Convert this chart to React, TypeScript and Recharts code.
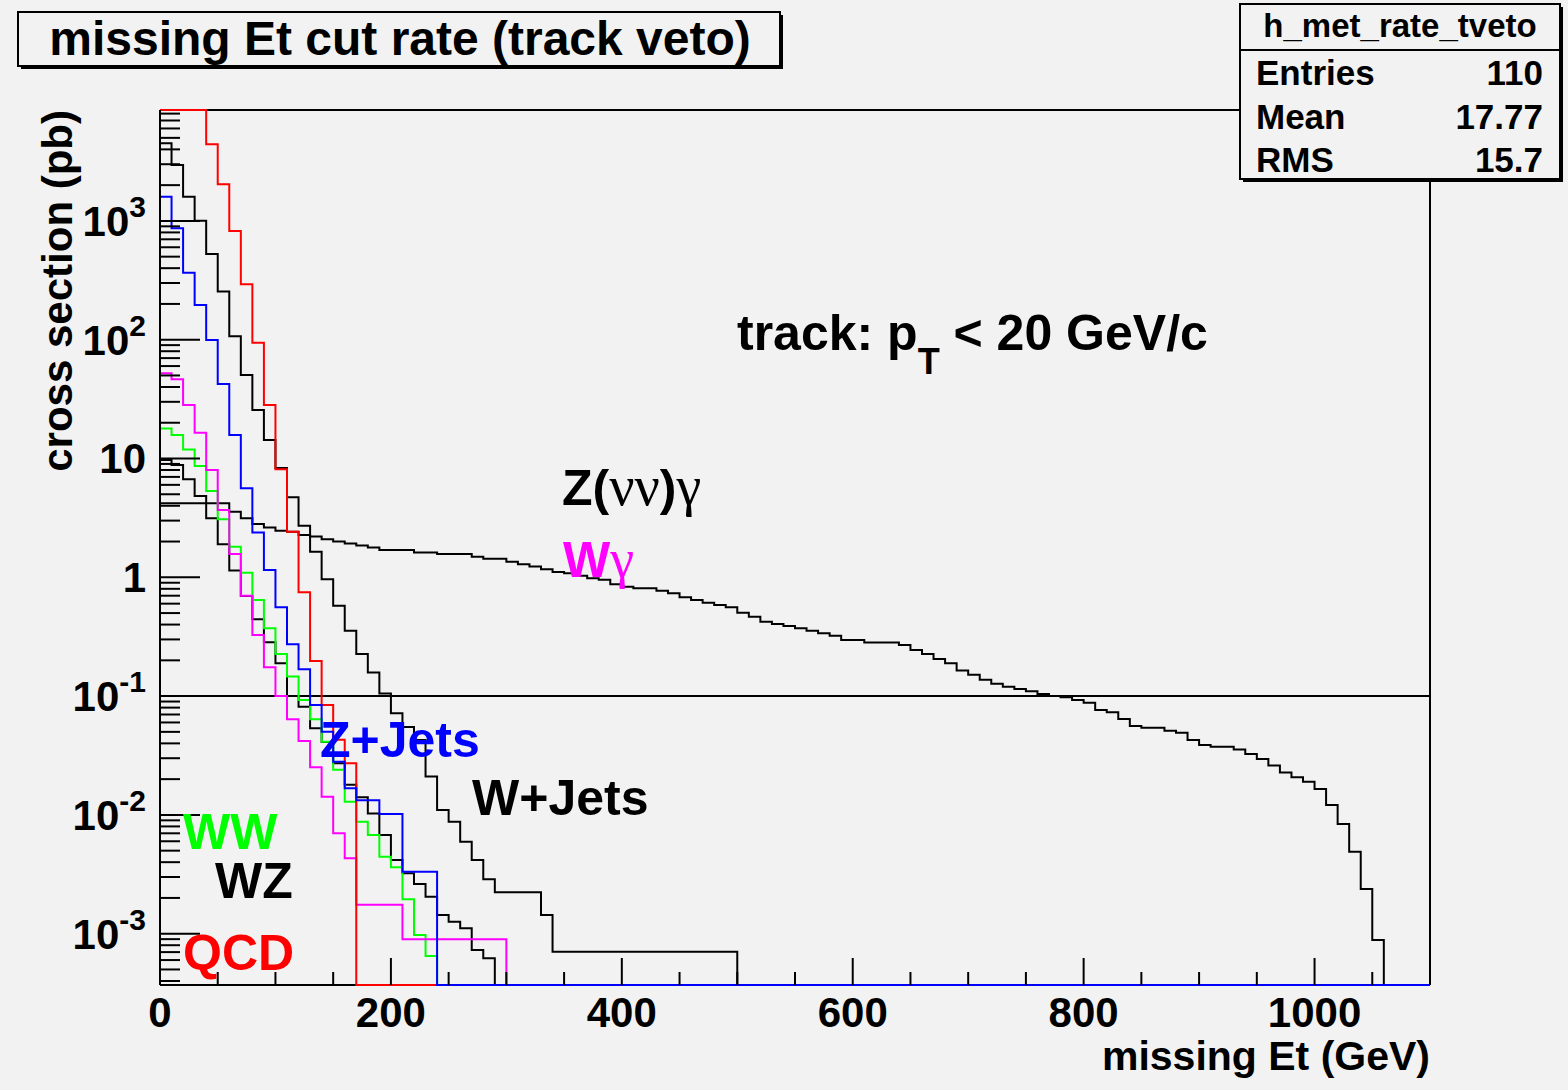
import React from 'react';
import { LineChart, Line, XAxis, YAxis, ReferenceLine } from 'recharts';

// Histogram binning (GeV)
const BIN_WIDTH = 10;
const BIN_COUNT = 110;
const X_MAX = 1100;

// Visible range of the logarithmic cross-section axis (pb)
const Y_MIN = 3.7e-4;
const Y_MAX = 8580;

// Axis ticks and labels
const X_MAJOR_TICKS = [0, 200, 400, 600, 800, 1000];
const X_MINOR_STEP = 50;
const Y_DECADES = [1e-3, 1e-2, 1e-1, 1, 10, 100, 1000];
const Y_DECADE_LABELS = [
  ['10', '-3'],
  ['10', '-2'],
  ['10', '-1'],
  ['1', ''],
  ['10', ''],
  ['10', '2'],
  ['10', '3'],
];
const Y_MINOR_MULTIPLIERS = [2, 3, 4, 5, 6, 7, 8, 9];

// Cross section (pb) passing the missing-Et cut, one entry per 10 GeV bin.
// Bins past the end of a list are empty.
const Z_NUNU_GAMMA = [
  4.2, 4.2, 4.2, 4.2, 4.2, 4.2, 3.57, 3.14, 2.81, 2.62,
  2.47, 2.42, 2.27, 2.2, 2.09, 2.0, 1.93, 1.85, 1.78, 1.7,
  1.7, 1.7, 1.62, 1.62, 1.57, 1.57, 1.57, 1.49, 1.43, 1.43,
  1.35, 1.29, 1.23, 1.17, 1.11, 1.08, 1.03, 0.98, 0.955, 0.873,
  0.834, 0.808, 0.808, 0.771, 0.733, 0.679, 0.644, 0.611, 0.585, 0.559,
  0.503, 0.466, 0.423, 0.404, 0.389, 0.372, 0.355, 0.338, 0.322, 0.297,
  0.297, 0.282, 0.282, 0.282, 0.269, 0.244, 0.226, 0.205, 0.189, 0.164,
  0.151, 0.137, 0.127, 0.12, 0.115, 0.11, 0.104, 0.1, 0.0977, 0.0927,
  0.088, 0.0763, 0.0731, 0.0641, 0.056, 0.0542, 0.0542, 0.0511, 0.0492, 0.0427,
  0.0387, 0.0375, 0.0375, 0.0356, 0.0326, 0.0296, 0.026, 0.0227, 0.0207, 0.019,
  0.0165, 0.0121, 0.00838, 0.0049, 0.00238, 0.000885,
];
const W_JETS = [
  4500, 2960, 1600, 1004, 526, 254, 107, 50.4, 25.6, 14.3,
  8.3, 4.71, 2.72, 1.64, 0.962, 0.577, 0.355, 0.226, 0.158, 0.105,
  0.0717, 0.055, 0.0427, 0.021, 0.011, 0.00876, 0.00595, 0.00417, 0.00287, 0.00223,
  0.00223, 0.00223, 0.00223, 0.00144, 0.000705, 0.000705, 0.000705, 0.000705, 0.000705, 0.000705,
  0.000705, 0.000705, 0.000705, 0.000705, 0.000705, 0.000705, 0.000705, 0.000705, 0.000705, 0.000705,
];
const WZ = [
  9.7, 8.8, 6.68, 4.83, 3.14, 1.9, 1.14, 0.696, 0.443, 0.284,
  0.189, 0.1, 0.0814, 0.0536, 0.041, 0.0272, 0.0179, 0.0141, 0.0103, 0.00678,
  0.00417, 0.00322, 0.00262, 0.00205, 0.00144, 0.00126, 0.00111, 0.00073, 0.00062,
];
const WW = [
  17.9, 15.8, 11.9, 8.65, 5.32, 3.08, 1.81, 1.09, 0.644, 0.372,
  0.226, 0.146, 0.0927, 0.0638, 0.0413, 0.024, 0.0129, 0.00876, 0.00678, 0.00445,
  0.00362, 0.00195, 0.000975, 0.000649,
];
const W_GAMMA = [
  52.1, 46.4, 28.2, 16.5, 8.0, 3.68, 1.57, 0.7, 0.327, 0.175,
  0.1, 0.0638, 0.0418, 0.0252, 0.0142, 0.007, 0.00431, 0.00175, 0.00175, 0.00175,
  0.00175, 0.000897, 0.000897, 0.000897, 0.000897, 0.000897, 0.000897, 0.000897, 0.000897, 0.000897,
];
const QCD = [
  90000, 45000, 22000, 10000, 4420, 2030, 822, 293, 94.4, 28.2,
  8.11, 2.42, 0.748, 0.197, 0.0841, 0.043, 0.0272,
];
const Z_JETS = [
  1600, 866, 366, 196, 99.4, 42.4, 15.8, 5.61, 2.38, 1.15,
  0.559, 0.273, 0.168, 0.0841, 0.05, 0.028, 0.0168, 0.0133, 0.0133, 0.0102,
  0.0102, 0.00333, 0.00333, 0.00333,
];

// Series in drawing order (later ones are painted on top)
const SERIES = [
  { key: 'znng', values: Z_NUNU_GAMMA, color: '#000000' },
  { key: 'wjets', values: W_JETS, color: '#000000' },
  { key: 'wz', values: WZ, color: '#000000' },
  { key: 'ww', values: WW, color: '#00ff00' },
  { key: 'wgamma', values: W_GAMMA, color: '#ff00ff' },
  { key: 'qcd', values: QCD, color: '#ff0000' },
  { key: 'zjets', values: Z_JETS, color: '#0000ff' },
];

const BG = '#f2f2f2';
const SANS = '"Liberation Sans", Arial, Helvetica, sans-serif';
const SERIF = '"Liberation Serif", "DejaVu Serif", serif';

// Like the ROOT painter: empty bins sit on the bottom frame, overflowing ones on the top frame.
const toFrame = (v: number) => (v <= Y_MIN ? Y_MIN : v >= Y_MAX ? Y_MAX : v);

const binContent = (values: number[], bin: number) => {
  const b = Math.min(bin, BIN_COUNT - 1);
  return b < values.length ? values[b] : 0;
};

// One row per bin low edge, plus the upper edge so the last bin gets its step.
const rows = Array.from({ length: BIN_COUNT + 1 }, (_, i) => {
  const row: Record<string, number> = { met: i * BIN_WIDTH };
  SERIES.forEach((s) => {
    row[s.key] = toFrame(binContent(s.values, i));
  });
  return row;
});

const X_TICKS = Array.from({ length: X_MAX / X_MINOR_STEP + 1 }, (_, i) => i * X_MINOR_STEP);
const Y_TICKS: number[] = [];
[1e-4, ...Y_DECADES].forEach((d) => {
  if (d >= Y_MIN && d <= Y_MAX) Y_TICKS.push(d);
  Y_MINOR_MULTIPLIERS.forEach((m) => {
    const v = m * d;
    if (v >= Y_MIN && v <= Y_MAX) Y_TICKS.push(v);
  });
});
Y_TICKS.sort((a, b) => a - b);

const XTick = (props: any) => {
  const { x, y, payload } = props;
  const v = payload.value;
  const major = X_MAJOR_TICKS.includes(v);
  return (
    <g>
      <line x1={x} x2={x} y1={y} y2={y - (major ? 27 : 13)} stroke="#000" strokeWidth={2} />
      {major && (
        <text x={x} y={y + 42} textAnchor="middle" fontFamily={SANS} fontWeight="bold" fontSize={42} fill="#000">
          {v}
        </text>
      )}
    </g>
  );
};

const YTick = (props: any) => {
  const { x, y, payload } = props;
  const v = payload.value;
  const idx = Y_DECADES.findIndex((d) => Math.abs(v / d - 1) < 1e-6);
  const major = idx >= 0;
  const label = major ? Y_DECADE_LABELS[idx] : null;
  return (
    <g>
      <line x1={x} x2={x + (major ? 40 : 20)} y1={y} y2={y} stroke="#000" strokeWidth={2} />
      {label && (
        <text x={x - 14} y={y + 15} textAnchor="end" fontFamily={SANS} fontWeight="bold" fontSize={42} fill="#000">
          {label[0]}
          {label[1] && (
            <tspan dy={-19} fontSize={30}>
              {label[1]}
            </tspan>
          )}
        </text>
      )}
    </g>
  );
};

const Overlay = () => (
  <svg width={1568} height={1090} style={{ position: 'absolute', left: 0, top: 0, pointerEvents: 'none' }}>
    {/* title box */}
    <rect x={21} y={15} width={762} height={54} fill="#000" />
    <rect x={18} y={12} width={762} height={54} fill={BG} stroke="#000" strokeWidth={2} />
    <text x={400} y={55} textAnchor="middle" fontFamily={SANS} fontWeight="bold" fontSize={48} fill="#000">
      missing Et cut rate (track veto)
    </text>

    {/* statistics box */}
    <rect x={1243} y={7} width={320} height={175} fill="#000" />
    <rect x={1240} y={4} width={320} height={175} fill={BG} stroke="#000" strokeWidth={2} />
    <line x1={1240} x2={1560} y1={50} y2={50} stroke="#000" strokeWidth={2} />
    <g fontFamily={SANS} fontWeight="bold" fill="#000">
      <text x={1400} y={37} textAnchor="middle" fontSize={33}>h_met_rate_tveto</text>
      <text x={1256} y={85} fontSize={35}>Entries</text>
      <text x={1543} y={85} fontSize={35} textAnchor="end">110</text>
      <text x={1256} y={129} fontSize={35}>Mean</text>
      <text x={1543} y={129} fontSize={35} textAnchor="end">17.77</text>
      <text x={1256} y={172} fontSize={35}>RMS</text>
      <text x={1543} y={172} fontSize={35} textAnchor="end">15.7</text>
    </g>

    {/* axis titles */}
    <text x={1430} y={1070} textAnchor="end" fontFamily={SANS} fontWeight="bold" fontSize={41} fill="#000">
      missing Et (GeV)
    </text>
    <text
      transform="translate(72,110) rotate(-90)"
      textAnchor="end"
      fontFamily={SANS}
      fontWeight="bold"
      fontSize={42}
      fill="#000"
    >
      cross section (pb)
    </text>

    {/* annotations */}
    <g fontFamily={SANS} fontWeight="bold" fontSize={50}>
      <text x={737} y={350} fill="#000">
        track: p
        <tspan dy={24} fontSize={36}>T</tspan>
        <tspan dy={-24}>{' < 20 GeV/c'}</tspan>
      </text>
      <text x={562} y={505} fill="#000">
        Z(
        <tspan fontFamily={SERIF} fontWeight="normal" fontSize={56}>νν</tspan>)
        <tspan fontFamily={SERIF} fontWeight="normal" fontSize={56}>γ</tspan>
      </text>
      <text x={563} y={577} fill="#ff00ff">
        W<tspan fontFamily={SERIF} fontWeight="normal" fontSize={54}>γ</tspan>
      </text>
      <text x={320} y={757} fill="#0000ff">Z+Jets</text>
      <text x={472} y={815} fill="#000">W+Jets</text>
      <text x={183} y={849} fill="#00ff00">WW</text>
      <text x={215} y={898} fill="#000">WZ</text>
      <text x={183} y={970} fill="#ff0000">QCD</text>
    </g>
  </svg>
);

export default function App() {
  return (
    <div style={{ position: 'absolute', left: 0, top: 0, width: 1568, height: 1090, background: BG, overflow: 'hidden' }}>
      <LineChart width={1568} height={1090} data={rows} margin={{ top: 110, right: 138, left: 0, bottom: 0 }}>
        <XAxis
          dataKey="met"
          type="number"
          domain={[0, X_MAX]}
          ticks={X_TICKS}
          interval={0}
          height={105}
          tickLine={false}
          tickSize={0}
          tickMargin={0}
          axisLine={false}
          tick={(p: any) => <XTick {...p} />}
        />
        <YAxis
          type="number"
          scale="log"
          domain={[Y_MIN, Y_MAX]}
          ticks={Y_TICKS}
          interval={0}
          width={160}
          tickLine={false}
          tickSize={0}
          tickMargin={0}
          axisLine={{ stroke: '#000', strokeWidth: 2 }}
          tick={(p: any) => <YTick {...p} />}
        />
        {/* frame: bottom and top edges, right edge, plus the 0.1 pb guide */}
        <ReferenceLine y={Y_MIN} stroke="#000" strokeWidth={2} />
        <ReferenceLine y={Y_MAX} stroke="#000" strokeWidth={2} />
        <ReferenceLine x={X_MAX} stroke="#000" strokeWidth={2} />
        <ReferenceLine y={0.1} stroke="#000" strokeWidth={2} />
        {SERIES.map((s) => (
          <Line
            key={s.key}
            type="stepAfter"
            dataKey={s.key}
            stroke={s.color}
            strokeWidth={2}
            dot={false}
            activeDot={false}
            isAnimationActive={false}
          />
        ))}
      </LineChart>
      <Overlay />
    </div>
  );
}
